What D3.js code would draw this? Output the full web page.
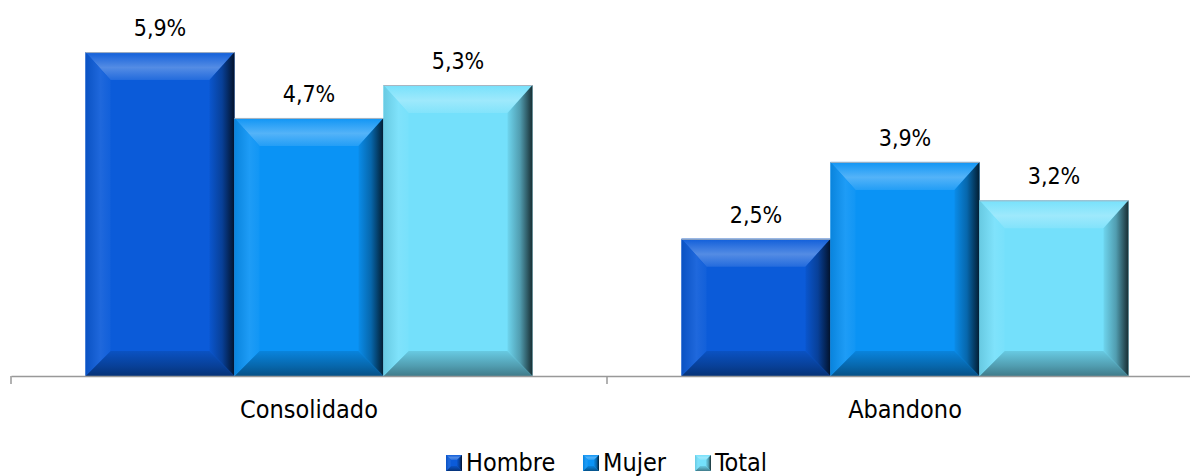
<!DOCTYPE html>
<html>
<head>
<meta charset="utf-8">
<script src="https://cdn.jsdelivr.net/npm/d3@7"></script>
<style>
  body { margin: 0; background: #fff; }
  svg { display: block; }
  svg text { font-family: "DejaVu Sans", sans-serif; font-stretch: condensed; }
</style>
</head>
<body>
<svg width="1190" height="476"></svg>
<script>
var categories = ['Consolidado', 'Abandono'];
var seriesNames = ['Hombre', 'Mujer', 'Total'];
var hombre = [5.9, 2.5];
var mujer = [4.7, 3.9];
var total = [5.3, 3.2];
var seriesColors = ['#0b5bd9', '#0a93f5', '#74e0fb'];

var values = [hombre, mujer, total];

var svg = d3.select('svg');
var defs = svg.append('defs');

var baseY = 376;
var x0 = d3.scaleBand().domain(categories).range([11, 1203]).paddingInner(0).paddingOuter(0);
var x1 = d3.scaleBand().domain(seriesNames).range([0, x0.bandwidth()]).paddingInner(0).paddingOuter(0.5);
var y = d3.scaleLinear().domain([0, 6]).range([baseY, baseY - 6 * 54.9]);

// gradients for the bevelled bars
seriesColors.forEach(function(c, i) {
    function light(k) { return d3.interpolateRgb(c, '#ffffff')(k); }
    function dark(k) { return d3.interpolateRgb(c, '#000000')(k); }

    var top = defs.append('linearGradient').attr('id', 'top' + i)
        .attr('x1', 0).attr('y1', 0).attr('x2', 0).attr('y2', 1);
    top.append('stop').attr('offset', 0).attr('stop-color', light(0.02));
    top.append('stop').attr('offset', 0.55).attr('stop-color', light(0.3));
    top.append('stop').attr('offset', 1).attr('stop-color', light(0.1));

    var left = defs.append('linearGradient').attr('id', 'left' + i)
        .attr('x1', 0).attr('y1', 0).attr('x2', 1).attr('y2', 0);
    left.append('stop').attr('offset', 0).attr('stop-color', dark(0.1));
    left.append('stop').attr('offset', 0.6).attr('stop-color', light(0.08));
    left.append('stop').attr('offset', 1).attr('stop-color', light(0.03));

    var right = defs.append('linearGradient').attr('id', 'right' + i)
        .attr('x1', 0).attr('y1', 0).attr('x2', 1).attr('y2', 0);
    right.append('stop').attr('offset', 0).attr('stop-color', dark(0.05));
    right.append('stop').attr('offset', 0.5).attr('stop-color', dark(0.3));
    right.append('stop').attr('offset', 1).attr('stop-color', dark(0.8));

    var bottom = defs.append('linearGradient').attr('id', 'bottom' + i)
        .attr('x1', 0).attr('y1', 0).attr('x2', 0).attr('y2', 1);
    bottom.append('stop').attr('offset', 0).attr('stop-color', dark(0.1));
    bottom.append('stop').attr('offset', 0.6).attr('stop-color', dark(0.3));
    bottom.append('stop').attr('offset', 1).attr('stop-color', dark(0.45));
});

// flatten the data
var bars = [];
categories.forEach(function(cat, ci) {
    seriesNames.forEach(function(s, si) {
        bars.push({ cat: cat, series: s, si: si, value: values[si][ci] });
    });
});

var barGroup = svg.append('g').attr('id', 'bars');
var bevel = 25;

var bar = barGroup.selectAll('g.bar')
    .data(bars)
    .enter()
    .append('g')
    .attr('class', 'bar');

bar.each(function(d) {
    var g = d3.select(this);
    var xl = x0(d.cat) + x1(d.series);
    var xr = xl + x1.bandwidth();
    var yt = y(d.value);
    var yb = y(0);
    var bt = Math.min(28, (yb - yt) / 2);
    var bb = Math.min(bevel, (yb - yt) / 2);

    // face
    g.append('rect')
        .attr('x', xl).attr('y', yt).attr('width', xr - xl).attr('height', yb - yt)
        .attr('fill', seriesColors[d.si]);
    // top
    g.append('polygon')
        .attr('points', [[xl, yt], [xr, yt], [xr - bevel, yt + bt], [xl + bevel, yt + bt]].join(' '))
        .attr('fill', 'url(#top' + d.si + ')');
    // bottom
    g.append('polygon')
        .attr('points', [[xl, yb], [xr, yb], [xr - bevel, yb - bb], [xl + bevel, yb - bb]].join(' '))
        .attr('fill', 'url(#bottom' + d.si + ')');
    // left
    g.append('polygon')
        .attr('points', [[xl, yt], [xl + bevel, yt + bt], [xl + bevel, yb - bb], [xl, yb]].join(' '))
        .attr('fill', 'url(#left' + d.si + ')');
    // right
    g.append('polygon')
        .attr('points', [[xr, yt], [xr - bevel, yt + bt], [xr - bevel, yb - bb], [xr, yb]].join(' '))
        .attr('fill', 'url(#right' + d.si + ')');
    // thin top edge
    g.append('line')
        .attr('x1', xl).attr('x2', xr).attr('y1', yt + 0.5).attr('y2', yt + 0.5)
        .attr('stroke', '#a9b4c0').attr('stroke-width', 1);
});

// value labels
barGroup.selectAll('text.value')
    .data(bars)
    .enter()
    .append('text')
    .attr('class', 'value')
    .attr('x', function(d) { return x0(d.cat) + x1(d.series) + x1.bandwidth() / 2; })
    .attr('y', function(d) { return y(d.value) - 16; })
    .attr('text-anchor', 'middle')
    .attr('font-size', 23)
    .attr('fill', '#000')
    .text(function(d) { return d3.format('.1f')(d.value).replace('.', ',') + '%'; });

// axis x
var axisX = d3.axisBottom(x0)
    .tickSize(0)
    .tickSizeOuter(0);

var axisG = svg.append('g')
    .attr('class', 'axisX')
    .attr('transform', 'translate(0,' + baseY + ')')
    .call(axisX);
axisG.select('.domain').attr('stroke', '#999999').attr('stroke-width', 1.5);
axisG.selectAll('.tick text')
    .attr('font-size', 25)
    .attr('fill', '#000')
    .attr('dy', 0)
    .attr('y', 42);

// category boundary ticks
svg.append('g').selectAll('line')
    .data(categories.concat(['end']))
    .enter()
    .append('line')
    .attr('x1', function(d, i) { return i < categories.length ? x0(d) : x0.range()[1]; })
    .attr('x2', function(d, i) { return i < categories.length ? x0(d) : x0.range()[1]; })
    .attr('y1', baseY)
    .attr('y2', baseY + 8)
    .attr('stroke', '#999999')
    .attr('stroke-width', 1.5);

// legend
var legend = svg.append('g').attr('id', 'legend');
var legendX = [446, 583, 695];
var item = legend.selectAll('g')
    .data(seriesNames)
    .enter()
    .append('g')
    .attr('transform', function(d, i) { return 'translate(' + legendX[i] + ',455)'; });

item.each(function(d, i) {
    var g = d3.select(this);
    var s = 16, b = 5;
    g.append('rect').attr('width', s).attr('height', s).attr('fill', seriesColors[i]);
    g.append('polygon').attr('points', [[0, 0], [s, 0], [s - b, b], [b, b]].join(' ')).attr('fill', 'url(#top' + i + ')');
    g.append('polygon').attr('points', [[0, s], [s, s], [s - b, s - b], [b, s - b]].join(' ')).attr('fill', 'url(#bottom' + i + ')');
    g.append('polygon').attr('points', [[0, 0], [b, b], [b, s - b], [0, s]].join(' ')).attr('fill', 'url(#left' + i + ')');
    g.append('polygon').attr('points', [[s, 0], [s - b, b], [s - b, s - b], [s, s]].join(' ')).attr('fill', 'url(#right' + i + ')');
    g.append('text')
        .attr('x', s + 4)
        .attr('y', s - 0.5)
        .attr('font-size', 25)
        .attr('fill', '#000')
        .text(d);
});
</script>
</body>
</html>
